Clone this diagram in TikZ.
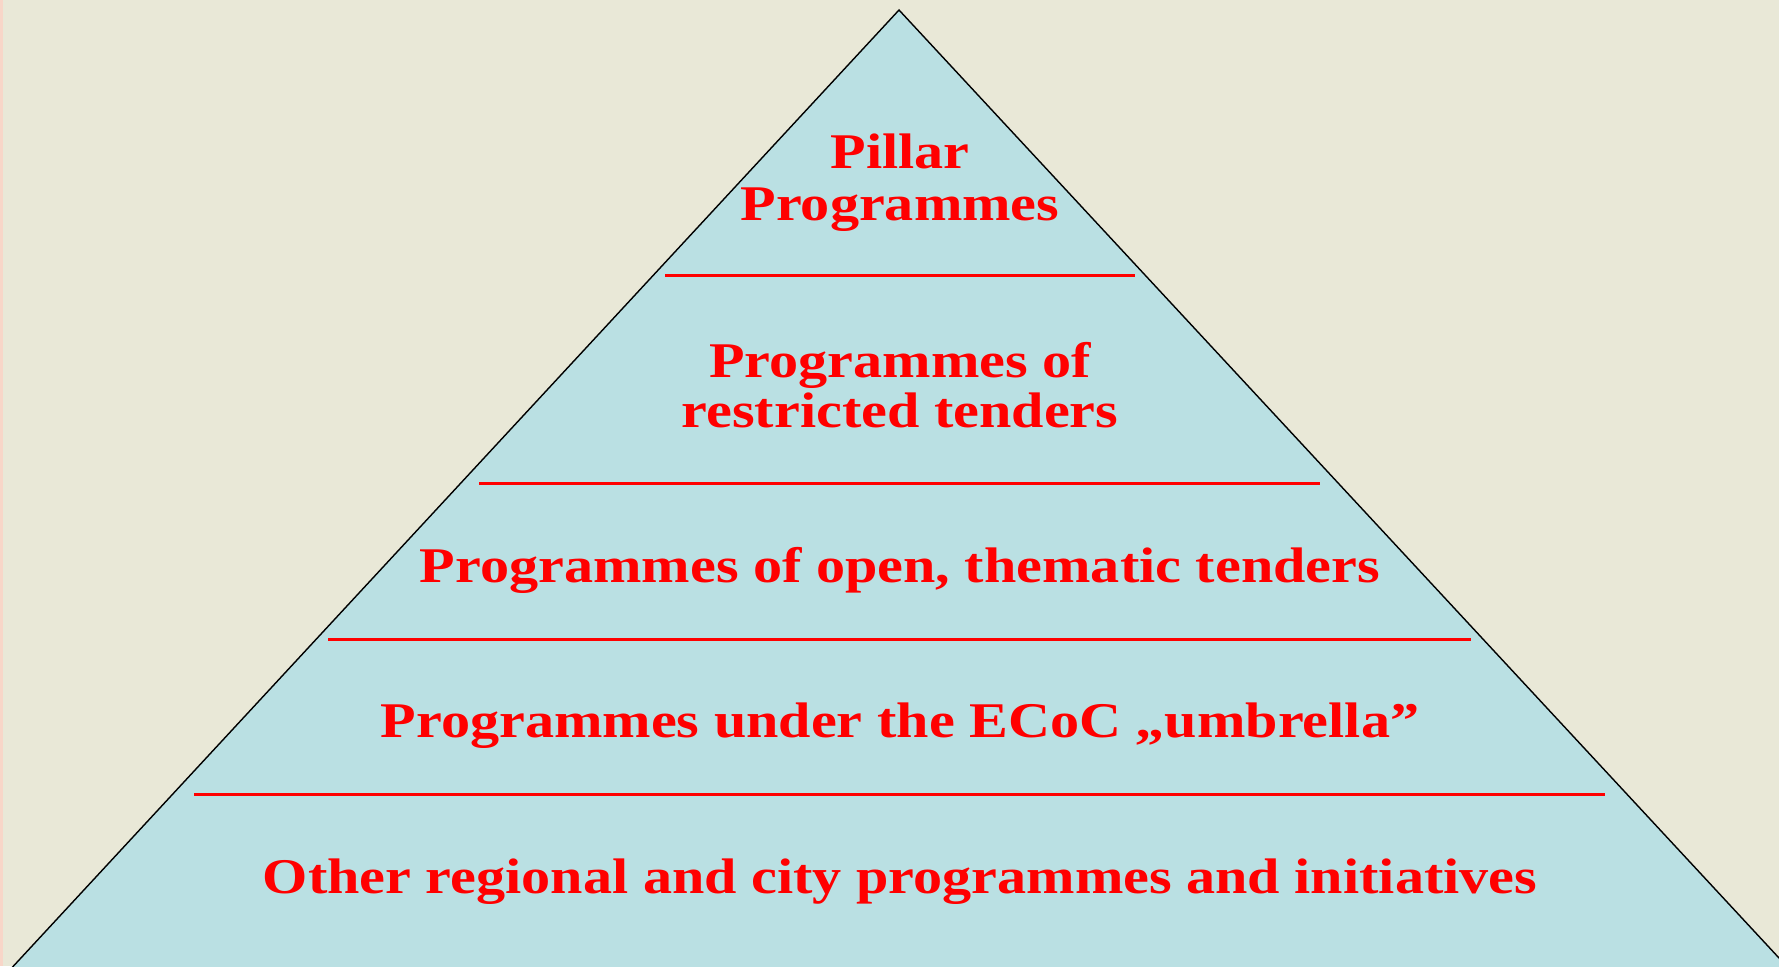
\documentclass[tikz,border=0pt]{standalone}
\usepackage{fontspec}
\setmainfont{Liberation Serif}[FakeStretch=1.165]
\usepackage{xcolor}
\usetikzlibrary{positioning}

\definecolor{slidebg}{RGB}{233,232,215}
\definecolor{pyramidfill}{RGB}{186,224,227}
\definecolor{tierred}{RGB}{255,0,0}
\definecolor{edgepink}{RGB}{248,214,200}

\tikzset{
  tierlabel/.style={text=tierred, font=\fontsize{14.2}{17}\selectfont\bfseries, inner sep=0pt, anchor=base},
  divider/.style={draw=tierred, line width=0.85pt}
}

\begin{document}
\begin{tikzpicture}[x=0.01cm, y=-0.01cm]
  % background
  \fill[slidebg] (0,0) rectangle (1779,966);
  \fill[edgepink] (0,0) rectangle (3,966);
  \useasboundingbox (0,0) rectangle (1779,966);

  % pyramid
  \coordinate (apex) at (899,10);
  \coordinate (baseL) at (-18,1000);
  \coordinate (baseR) at (1818,1000);
  \filldraw[fill=pyramidfill, draw=black, line width=0.4pt] (apex) -- (baseR) -- (baseL) -- cycle;

  % dividers
  \foreach \y/\xl/\xr [count=\i] in {275/665/1135, 483/479/1320, 639/328/1471, 794/194/1605} {
    \coordinate (divL\i) at (\xl,\y);
    \coordinate (divR\i) at (\xr,\y);
    \draw[divider] (divL\i) -- (divR\i);
  }

  % tier texts
  \foreach \y/\t [count=\i] in {168/{Pillar}, 220/{Programmes}, 377/{Programmes of}, 427/{restricted tenders},
      582/{Programmes of open, thematic tenders}, 737/{Programmes under the ECoC „umbrella”},
      893/{Other regional and city programmes and initiatives}} {
    \node[tierlabel] (tier\i) at (900,\y) {\t};
  }
\end{tikzpicture}
\end{document}
